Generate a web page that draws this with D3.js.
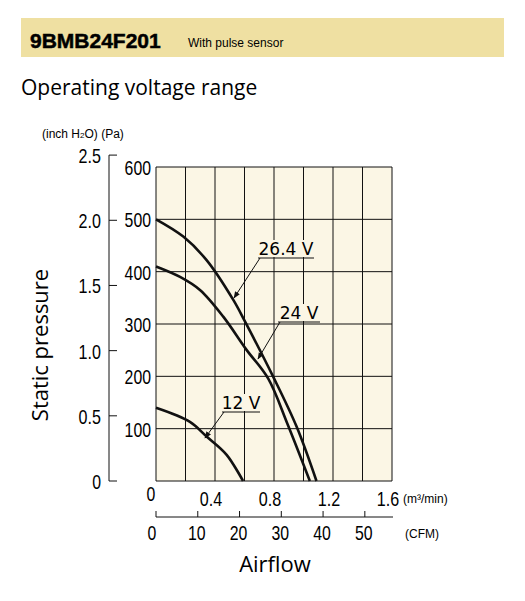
<!DOCTYPE html>
<html><head><meta charset="utf-8">
<script src="https://cdn.jsdelivr.net/npm/d3@7"></script>
<style>body{margin:0;background:#fff}.n{font-family:'Liberation Sans',Arial,sans-serif;font-size:21px}</style></head>
<body><svg id="c" width="525" height="601"></svg>
<script>
const curve264 = [[0,500],[0.185,467],[0.343,422],[0.524,346],[0.603,305],[0.795,199],[0.953,104],[1.088,0]];
const curve24 = [[0,410],[0.163,390],[0.298,365],[0.456,314],[0.61,252],[0.76,196],[0.89,110],[1.043,0]];
const curve12 = [[0,140],[0.23,113],[0.343,85],[0.479,50],[0.59,0]];
const xTicks = [0,0.4,0.8,1.2,1.6];
const yTicks = [0,100,200,300,400,500,600];
const inchTicks = [0,0.5,1.0,1.5,2.0,2.5];
const cfmTicks = [0,10,20,30,40,50];

const svg = d3.select("#c");
const L=156,R=392,T=167,B=481;
const x = d3.scaleLinear().domain([0,1.6]).range([L,R]);
const y = d3.scaleLinear().domain([0,600]).range([B,T]);
const yi = d3.scaleLinear().domain([0,2.5]).range([B,B-(B-T)*2.5*249.09/600]);
const xc = d3.scaleLinear().domain([0,1]).range([L,x(0.0283168)]);
function num(s,xx,yy,anchor){
  const w=s.length*8.8 - (s.includes(".")?4:0);
  return svg.append("text").attr("class","n").attr("x",xx).attr("y",yy).attr("text-anchor",anchor)
   .attr("textLength",w).attr("lengthAdjust","spacingAndGlyphs").text(s);
}

svg.append("rect").attr("x",21).attr("y",18).attr("width",483).attr("height",39).attr("fill","#EFE0A2");
svg.append("text").attr("x",30).attr("y",48).attr("font-family","'Liberation Sans',Arial,sans-serif").attr("font-weight","bold").attr("font-size",21).attr("stroke","#000").attr("stroke-width",0.5).text("9BMB24F201");
svg.append("text").attr("x",188).attr("y",47).attr("font-family","'Liberation Sans',sans-serif").attr("font-size",12).text("With pulse sensor");
svg.append("text").attr("x",21).attr("y",95).attr("font-family","'Open Sans','DejaVu Sans',sans-serif").attr("font-size",21).text("Operating voltage range");
const u=svg.append("text").attr("x",42).attr("y",138).attr("font-family","'Liberation Sans',sans-serif").attr("font-size",12);
u.append("tspan").text("(inch H");u.append("tspan").attr("font-size",8).text("2");u.append("tspan").text("O)   (Pa)");

svg.append("rect").attr("x",L).attr("y",T).attr("width",R-L).attr("height",B-T).attr("fill","#FBF6E5");
const g=svg.append("g").attr("stroke","#111").attr("stroke-width",1);
d3.range(0,1.61,0.2).forEach(v=>g.append("line").attr("x1",x(v)).attr("x2",x(v)).attr("y1",T).attr("y2",B));
yTicks.forEach(v=>g.append("line").attr("x1",L).attr("x2",R).attr("y1",y(v)).attr("y2",y(v)));

const line=d3.line().x(d=>x(d[0])).y(d=>y(d[1])).curve(d3.curveCatmullRom.alpha(0.5));
[curve264,curve24,curve12].forEach(c=>svg.append("path").attr("d",line(c)).attr("fill","none").attr("stroke","#111").attr("stroke-width",2.6));

yTicks.filter(v=>v>0).forEach(v=>num(String(v),L-5,y(v)+8,"end"));
num("0",x(0)-5,B+20,"middle");
svg.append("line").attr("x1",109).attr("x2",109).attr("y1",yi(2.5)).attr("y2",yi(0)).attr("stroke","#111");
inchTicks.forEach(v=>{svg.append("line").attr("x1",109).attr("x2",117).attr("y1",yi(v)).attr("y2",yi(v)).attr("stroke","#111");
 num(v===0?"0":v.toFixed(1),101,yi(v)+8,"end");});
svg.append("text").attr("transform","translate(48,345) rotate(-90)").attr("text-anchor","middle").attr("font-family","'Open Sans','DejaVu Sans',sans-serif").attr("font-size",22).text("Static pressure");
xTicks.filter(v=>v>0).forEach(v=>num(v.toFixed(1),x(v)-4,506,"middle"));
svg.append("text").attr("x",403).attr("y",503).attr("font-family","'Liberation Sans',sans-serif").attr("font-size",12).text("(m³/min)");
svg.append("line").attr("x1",L).attr("x2",R+1).attr("y1",517).attr("y2",517).attr("stroke","#111");
cfmTicks.forEach(v=>{svg.append("line").attr("x1",xc(v)).attr("x2",xc(v)).attr("y1",517).attr("y2",511).attr("stroke","#111");
 num(String(v),xc(v)-(v===0?4:1),540,"middle");});
svg.append("text").attr("x",405).attr("y",538).attr("font-family","'Liberation Sans',sans-serif").attr("font-size",12).text("(CFM)");
svg.append("text").attr("x",275).attr("y",572).attr("text-anchor","middle").attr("font-family","'Open Sans','DejaVu Sans',sans-serif").attr("font-size",22).text("Airflow");

svg.append("defs").append("marker").attr("id","ar").attr("viewBox","0 0 10 10").attr("refX",9).attr("refY",5).attr("markerWidth",7).attr("markerHeight",7).attr("orient","auto")
 .append("path").attr("d","M0,1L10,5L0,9z").attr("fill","#111");
const ann=[["26.4 V",258,314,258,234,298],["24 V",278,320,322,258,359],["12 V",222,260,412,205,438]];
ann.forEach(a=>{
 svg.append("rect").attr("x",a[1]).attr("y",a[3]-18).attr("width",a[2]-a[1]).attr("height",17).attr("fill","#FBF6E5");
 svg.append("text").attr("x",(a[1]+a[2])/2).attr("y",a[3]-3).attr("text-anchor","middle").attr("font-family","'DejaVu Sans',sans-serif").attr("font-size",17).text(a[0]);
 svg.append("line").attr("x1",a[1]).attr("x2",a[2]).attr("y1",a[3]).attr("y2",a[3]).attr("stroke","#111");
 svg.append("line").attr("x1",a[1]+2).attr("y1",a[3]).attr("x2",a[4]).attr("y2",a[5]).attr("stroke","#111").attr("marker-end","url(#ar)");
});
</script></body></html>
